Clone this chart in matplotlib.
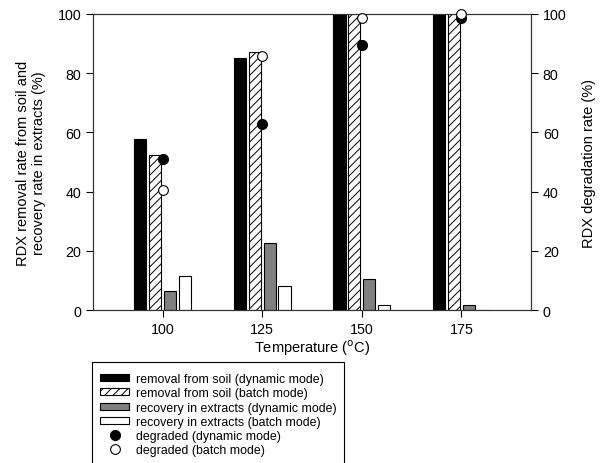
import matplotlib
matplotlib.use("Agg")
import matplotlib.pyplot as plt
from matplotlib.patches import Patch, Rectangle
from matplotlib.lines import Line2D
import numpy as np

plt.rcParams['font.family'] = ['Liberation Sans', 'DejaVu Sans']

temps = [100, 125, 150, 175]
removal_dynamic = [57.8, 85.2, 100, 100]
removal_batch = [52.5, 87.2, 100, 100]
recovery_dynamic = [6.5, 22.5, 10.5, 1.7]
recovery_batch = [11.6, 8.2, 1.6, 0]
degraded_dynamic = [51.0, 62.7, 89.6, 98.6]
degraded_batch = [40.6, 85.9, 98.6, 100.0]

labels = ["removal from soil (dynamic mode)",
          "removal from soil (batch mode)",
          "recovery in extracts (dynamic mode)",
          "recovery in extracts (batch mode)",
          "degraded (dynamic mode)",
          "degraded (batch mode)"]

fig = plt.figure(figsize=(6, 4.64), dpi=100)
ax = fig.add_axes([0.155, 0.3297, 0.73, 0.638])

x = np.array(temps, dtype=float)
w = 3.1
step = 3.75
plt.rcParams['hatch.linewidth'] = 0.7
ax.bar(x - 1.5 * step, removal_dynamic, w, color='black', edgecolor='black', linewidth=0.8)
ax.bar(x - 0.5 * step, removal_batch, w, color='white', edgecolor='black', hatch='////', linewidth=0.8)
ax.bar(x + 0.5 * step, recovery_dynamic, w, color='#808080', edgecolor='black', linewidth=0.8)
ax.bar(x + 1.5 * step, recovery_batch, w, color='white', edgecolor='black', linewidth=0.8)

ax.set_xlim(82.5, 192.5)
ax.set_ylim(0, 100)
ax.set_xticks(temps)
ax.set_yticks(range(0, 101, 20))
ax.tick_params(direction='out', length=5, labelsize=10.3, top=False, right=False)
ax.set_xlabel("Temperature ($^{\\rm o}$C)", fontsize=10.5, labelpad=1)
ax.set_ylabel("RDX removal rate from soil and\nrecovery rate in extracts (%)", fontsize=10.5, labelpad=8)

ax2 = ax.twinx()
ax2.plot(x, degraded_dynamic, 'o', color='black', markeredgecolor='black', markersize=7, clip_on=False, zorder=5)
ax2.plot(x, degraded_batch, 'o', color='white', markeredgecolor='black', markersize=7, markeredgewidth=0.8, clip_on=False, zorder=6)
ax2.set_ylim(0, 100)
ax2.set_yticks(range(0, 101, 20))
ax2.tick_params(direction='out', length=5, labelsize=10.3)
ax2.set_ylabel("RDX degradation rate (%)", fontsize=10.5, labelpad=11)

for a in (ax, ax2):
    for s in a.spines.values():
        s.set_linewidth(0.8)
        s.set_color('#333333')

handles = [Patch(facecolor='black', edgecolor='black', linewidth=0.8),
           Patch(facecolor='white', edgecolor='black', hatch='////', linewidth=0.8),
           Patch(facecolor='#808080', edgecolor='black', linewidth=0.8),
           Patch(facecolor='white', edgecolor='black', linewidth=0.8),
           Line2D([], [], marker='o', linestyle='none', color='black', markersize=7),
           Line2D([], [], marker='o', linestyle='none', markerfacecolor='white', markeredgecolor='black', markersize=7, markeredgewidth=0.8)]
leg = fig.legend(handles, labels, loc='upper left', bbox_to_anchor=(89 / 600, 1 - 363 / 464),
                 fontsize=8.9, frameon=False,
                 handlelength=2.35, handleheight=0.5, handletextpad=0.55, labelspacing=0.18,
                 borderpad=0.9, borderaxespad=0)

# legend frame (extends past the lower edge of the figure, as in the reference)
fig.patches.append(Rectangle((92 / 600, -0.05), (344 - 92) / 600, 0.05 + (464 - 363) / 464,
                             transform=fig.transFigure, facecolor='none',
                             edgecolor='black', linewidth=0.8))

fig.savefig("out.png", dpi=100)
